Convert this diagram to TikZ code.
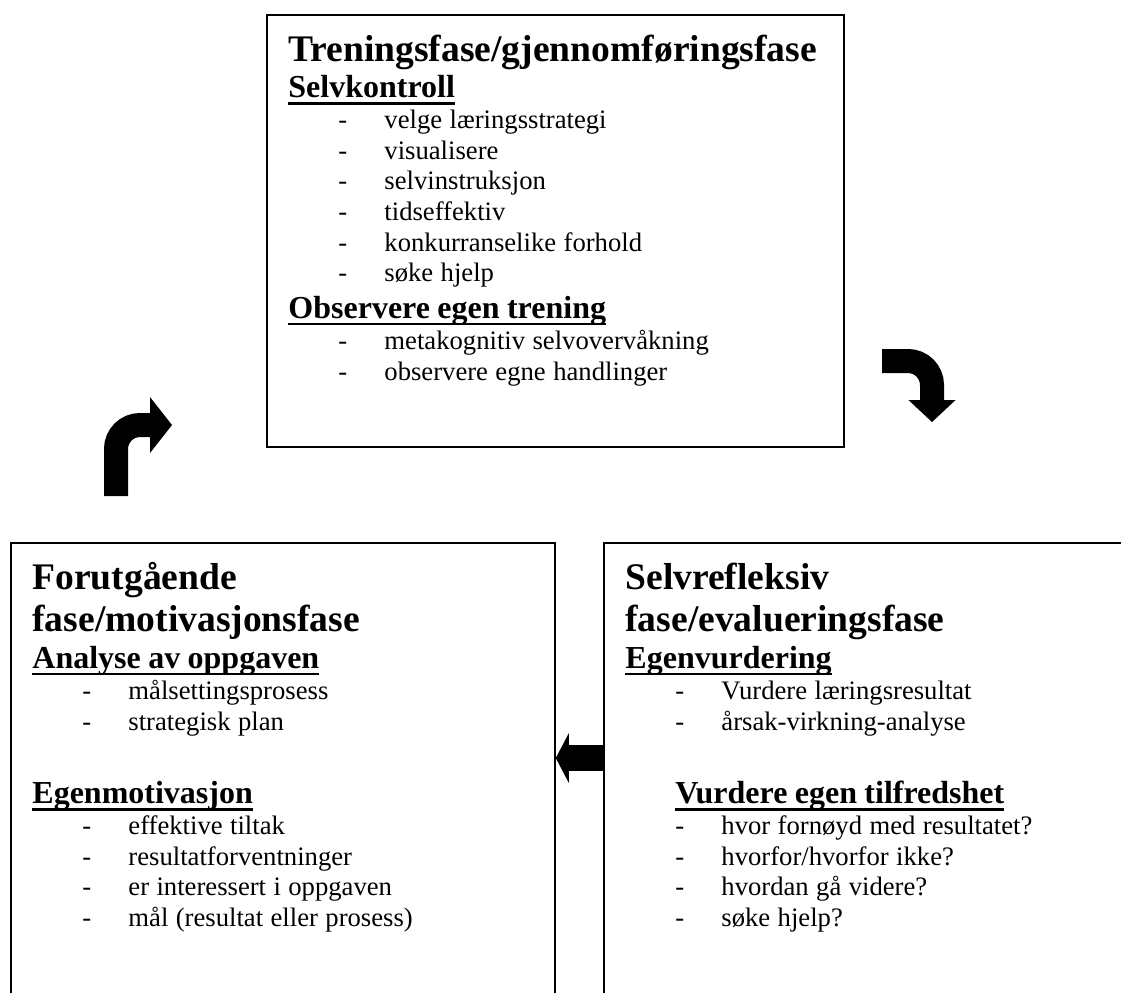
\documentclass[tikz,border=0pt]{standalone}
\usepackage{fontspec}
\setmainfont{Liberation Serif}
\usetikzlibrary{arrows.meta}

\newcommand*{\px}{0.45pt}
\newcommand*{\tittelfont}{\fontsize{16.9pt}{19.3pt}\selectfont\bfseries}
\newcommand*{\delfont}{\fontsize{14.4pt}{16.6pt}\selectfont\bfseries}
\newcommand*{\punktfont}{\fontsize{12pt}{13.8pt}\selectfont}
\newcommand*{\understrek}[1]{\leavevmode\setbox0\hbox{#1}\rlap{\rule[-3pt]{\wd0}{1.2pt}}\box0}
\newcommand*{\punkt}[1]{\hspace*{22.5pt}\makebox[20.7pt][l]{-}#1\par}

\begin{document}
\begin{tikzpicture}
[
	x=\px, y=-\px,
	boks/.style={draw,line width=0.8pt,inner sep=0pt,anchor=north west},
	tekst/.style={anchor=base west,inner sep=0pt,text width=240pt,align=left},
	blokkpil/.style={line width=10.8pt,rounded corners=10.8pt,-{Triangle[length=9.9pt,width=25.2pt,line width=0pt]}}
]

	% picture frame
	\useasboundingbox (0,0) rectangle (1121,992);
	\clip (0,0) rectangle (1121,992);

	% phase boxes
	\node[boks,minimum width={577*\px},minimum height={432*\px}] (trening) at (266,14) {};
	\node[boks,minimum width={544*\px},minimum height={480*\px}] (forut) at (10,542) {};
	\node[boks,minimum width={540*\px},minimum height={480*\px}] (evaluering) at (603,542) {};

	% top box text
	\node[tekst] (trening-tekst) at ([shift={(22,47)}]trening.north west) {
		{\tittelfont Treningsfase/gjennomføringsfase\par}
		{\delfont\understrek{Selvkontroll}\par}
		{\punktfont
		\punkt{velge læringsstrategi}
		\punkt{visualisere}
		\punkt{selvinstruksjon}
		\punkt{tidseffektiv}
		\punkt{konkurranselike forhold}
		\punkt{søke hjelp}}
		{\delfont\understrek{Observere egen trening}\par}
		{\punktfont
		\punkt{metakognitiv selvovervåkning}
		\punkt{observere egne handlinger}}
	};

	% left box text
	\node[tekst] (forut-tekst) at ([shift={(22,47)}]forut.north west) {
		{\tittelfont Forutgående\par}
		{\tittelfont fase/motivasjonsfase\par}
		{\delfont\understrek{Analyse av oppgaven}\par}
		{\punktfont
		\punkt{målsettingsprosess}
		\punkt{strategisk plan}}
		{\delfont\mbox{}\par}
		{\delfont\understrek{Egenmotivasjon}\par}
		{\punktfont
		\punkt{effektive tiltak}
		\punkt{resultatforventninger}
		\punkt{er interessert i oppgaven}
		\punkt{mål (resultat eller prosess)}}
	};

	% right box text
	\node[tekst] (evaluering-tekst) at ([shift={(22,47)}]evaluering.north west) {
		{\tittelfont Selvrefleksiv\par}
		{\tittelfont fase/evalueringsfase\par}
		{\delfont\understrek{Egenvurdering}\par}
		{\punktfont
		\punkt{Vurdere læringsresultat}
		\punkt{årsak-virkning-analyse}}
		{\delfont\mbox{}\par}
		{\delfont\hspace*{22.5pt}\understrek{Vurdere egen tilfredshet}\par}
		{\punktfont
		\punkt{hvor fornøyd med resultatet?}
		\punkt{hvorfor/hvorfor ikke?}
		\punkt{hvordan gå videre?}
		\punkt{søke hjelp?}}
	};

	% arrows
	\coordinate (pil1-start) at (116,496);
	\coordinate (pil1-slutt) at (172,425);
	\draw[blokkpil] (pil1-start) |- (pil1-slutt);
	%
	\coordinate (pil2-start) at (882,361);
	\coordinate (pil2-slutt) at (932,422);
	\draw[blokkpil,-{Triangle[length=9.9pt,width=21.2pt,line width=0pt]}] (pil2-start) -| (pil2-slutt);
	%
	\draw[blokkpil,line width=12pt,-{Triangle[length=5.9pt,width=22.5pt,line width=0pt]}]
		([shift={(0,216)}]evaluering.north west) -- ([shift={(0,216)}]forut.north east);

\end{tikzpicture}
\end{document}
